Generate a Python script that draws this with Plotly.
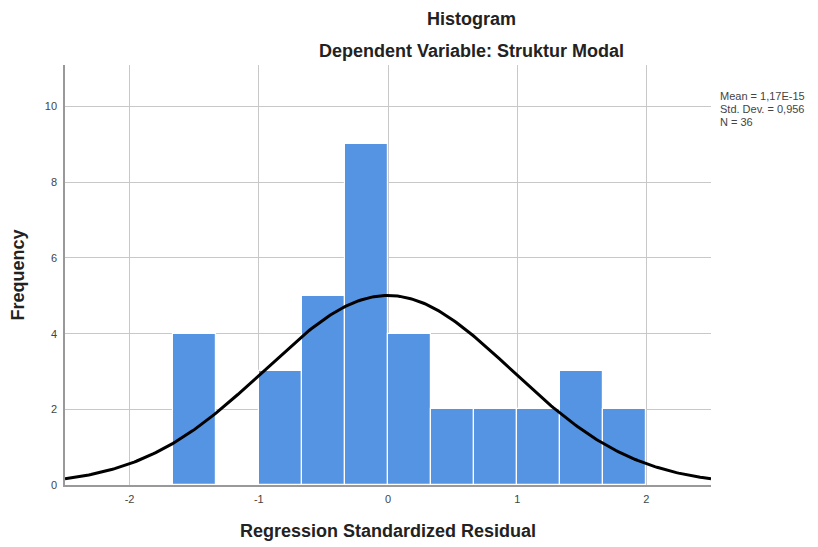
import numpy as np
import plotly.graph_objects as go

# Data
bin_starts = [-5/3, -4/3, -1.0, -2/3, -1/3, 0.0, 1/3, 2/3, 1.0, 4/3, 5/3]
frequencies = [4, 0, 3, 5, 9, 4, 2, 2, 2, 3, 2]
bin_width = 1/3
mean_val = 1.17e-15
std_val = 0.956
n_obs = 36
x_ticks = [-2, -1, 0, 1, 2]
y_ticks = [0, 2, 4, 6, 8, 10]
stats_lines = ["Mean = 1,17E-15", "Std. Dev. = 0,956", "N = 36"]

centers = [s + bin_width / 2 for s in bin_starts]

# Normal curve fitted with the stated mean / std. dev.
xc = np.linspace(-2.5, 2.5, 300)
yc = n_obs * bin_width * np.exp(-0.5 * ((xc - mean_val) / std_val) ** 2) / (std_val * np.sqrt(2 * np.pi))

font_family = "Liberation Sans, Arial, sans-serif"
OFF = 8  # page body margin
W, H = 818, 547
# plot box in screenshot pixels: left 65, right 711, top 65, bottom 485
ML, MT = 65 - OFF, 65 - OFF
MR = W - (711 - OFF)
MB = H - (485 - OFF)
plot_h = H - MT - MB
plot_w = W - ML - MR


def py(pix):
    """screenshot pixel y -> paper y"""
    return 1 - (pix - OFF - MT) / plot_h


def px(pix):
    return (pix - OFF - ML) / plot_w


fig = go.Figure()
fig.add_trace(go.Bar(
    x=centers, y=frequencies, width=bin_width,
    marker=dict(color="#5593e3", line=dict(color="white", width=1.2)),
    hoverinfo="x+y", showlegend=False,
))
fig.add_trace(go.Scatter(
    x=xc, y=yc, mode="lines", line=dict(color="black", width=3),
    showlegend=False, hoverinfo="skip",
))

annotations = [
    dict(text="<b>Histogram</b>", x=px(472), y=py(19), xref="paper", yref="paper",
         yanchor="middle", showarrow=False, font=dict(size=18, color="#222222")),
    dict(text="<b>Dependent Variable: Struktur Modal</b>", xref="paper", yref="paper",
         x=px(471), y=py(51), yanchor="middle", showarrow=False,
         font=dict(size=18, color="#222222")),
]
for i, line in enumerate(stats_lines):
    annotations.append(dict(
        text=line, xref="paper", yref="paper", x=px(718), y=py(96 + 13 * i),
        xanchor="left", yanchor="middle", showarrow=False,
        font=dict(size=11, color="#444444")))

fig.update_layout(
    width=W, height=H,
    margin=dict(l=ML, r=MR, t=MT, b=MB),
    paper_bgcolor="white", plot_bgcolor="white",
    font=dict(family=font_family, color="#222222"),
    bargap=0,
    xaxis=dict(
        range=[-2.5, 2.5], tickvals=x_ticks, ticktext=[str(v) for v in x_ticks],
        showgrid=True, gridcolor="#c8c8c8", gridwidth=1,
        showline=True, linecolor="#999999", linewidth=1.5,
        zeroline=False, ticks="outside", ticklen=3, tickcolor="rgba(0,0,0,0)",
        tickfont=dict(size=11, color="#444444"), automargin=False,
        title=dict(text="<b>Regression Standardized Residual</b>",
                   font=dict(size=18, color="#222222"), standoff=20),
    ),
    yaxis=dict(
        range=[0, 11.1], tickvals=y_ticks, ticktext=[str(v) for v in y_ticks],
        showgrid=True, gridcolor="#c8c8c8", gridwidth=1,
        showline=True, linecolor="#999999", linewidth=1.5,
        zeroline=False, ticks="outside", ticklen=4, tickcolor="rgba(0,0,0,0)",
        tickfont=dict(size=11, color="#444444"), automargin=False,
        title=dict(text="<b>Frequency</b>", font=dict(size=18, color="#222222"), standoff=16),
    ),
    annotations=annotations,
)

fig.write_html("out.html")
